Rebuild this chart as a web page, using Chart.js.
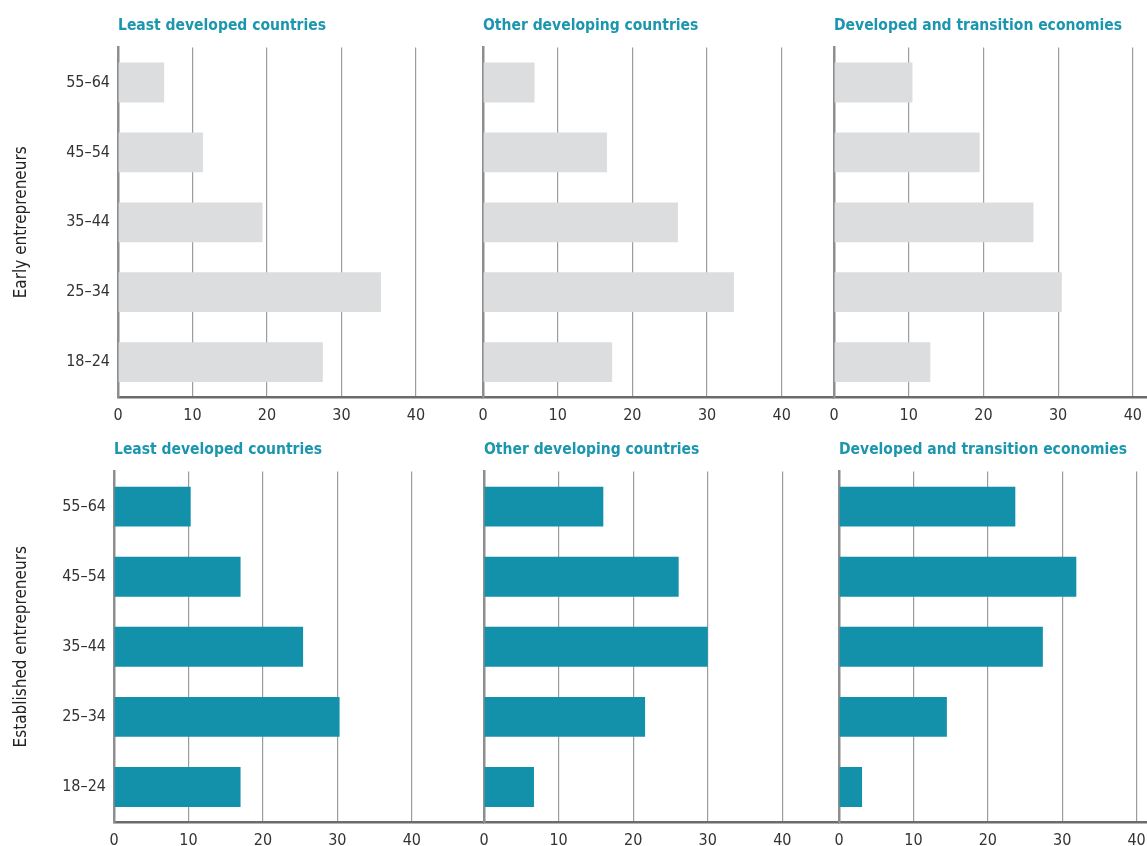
<!DOCTYPE html>
<html>
<head>
<meta charset="utf-8">
<script src="https://cdn.jsdelivr.net/npm/chart.js@4.4.1/dist/chart.umd.min.js"></script>
<style>
  html, body { margin: 0; padding: 0; background: #fff; overflow: hidden; }
  body { width: 1147px; height: 846px; position: relative; }
  .panel { position: absolute; }
</style>
</head>
<body>
<div class="panel" style="left:0px;top:0px;width:483px;height:427px"><canvas id="c1"></canvas></div>
<div class="panel" style="left:463px;top:0px;width:371px;height:427px"><canvas id="c2"></canvas></div>
<div class="panel" style="left:814px;top:0px;width:333px;height:427px"><canvas id="c3"></canvas></div>
<div class="panel" style="left:0px;top:424px;width:484px;height:428px"><canvas id="c4"></canvas></div>
<div class="panel" style="left:464px;top:424px;width:375px;height:428px"><canvas id="c5"></canvas></div>
<div class="panel" style="left:819px;top:424px;width:328px;height:428px"><canvas id="c6"></canvas></div>
<script>
// age groups, bottom to top
const ageGroups = ["18–24", "25–34", "35–44", "45–54", "55–64"];
const xTicks = [0, 10, 20, 30, 40];

const groupTitles = [
  "Least developed countries",
  "Other developing countries",
  "Developed and transition economies",
];
const rowTitles = ["Early entrepreneurs", "Established entrepreneurs"];

// early entrepreneurs (%)
const earlyLDC = [27.5, 35.3, 19.4, 11.4, 6.2];
const earlyODC = [17.3, 33.6, 26.1, 16.6, 6.9];
const earlyDTE = [12.9, 30.5, 26.7, 19.5, 10.5];

// established entrepreneurs (%)
const estLDC = [17.0, 30.3, 25.4, 17.0, 10.3];
const estODC = [6.7, 21.6, 30.0, 26.1, 16.0];
const estDTE = [3.1, 14.5, 27.4, 31.9, 23.7];

const FONT = "'Liberation Sans Narrow', 'DejaVu Sans Condensed', 'Roboto', sans-serif";
const TEAL = "#1390aa";
const GREY = "#dcdddf";

function makePanel(id, opts) {
  const ctx = document.getElementById(id).getContext("2d");
  return new Chart(ctx, {
    type: "bar",
    data: {
      labels: ageGroups,
      datasets: [{
        data: opts.values,
        backgroundColor: opts.color,
        borderWidth: 0,
        barPercentage: 0.57,
        categoryPercentage: 1.0,
      }],
    },
    options: {
      indexAxis: "y",
      responsive: true,
      maintainAspectRatio: false,
      animation: false,
      layout: { padding: 0 },
      plugins: {
        legend: { display: false },
        tooltip: { enabled: false },
        title: {
          display: true,
          text: opts.title,
          align: "start",
          fullSize: false,
          color: "#1b96ae",
          font: { family: FONT, size: 15.5, weight: "bold" },
          padding: { top: 17, bottom: 12 },
        },
      },
      scales: {
        x: {
          min: 0,
          max: opts.max,
          afterBuildTicks: (s) => { s.ticks = xTicks.map((v) => ({ value: v })); },
          afterFit: (s) => {
            s.height = 30;
            s.paddingLeft = 0;
            s.paddingRight = 0;
          },
          grid: {
            drawTicks: false,
            color: "#9c9c9c",
            lineWidth: 1.2,
          },
          border: { display: true, color: "#6b6b6b", width: 2.5 },
          ticks: {
            padding: 9,
            color: "#333",
            font: { family: FONT, size: 16 },
          },
        },
        y: {
          reverse: true,
          afterFit: (s) => { s.width = opts.yWidth; },
          grid: { display: false, drawTicks: false },
          border: { display: true, color: "#8e8e8e", width: 2.5 },
          ticks: {
            display: opts.showLabels,
            padding: 8,
            color: "#333",
            font: { family: FONT, size: 16 },
          },
          title: {
            display: !!opts.rowTitle,
            text: opts.rowTitle || "",
            color: "#222",
            padding: { top: 11, bottom: 0 },
            font: { family: FONT, size: 17 },
          },
        },
      },
    },
  });
}

makePanel("c1", { values: earlyLDC, color: GREY, title: groupTitles[0], max: 49.0, yWidth: 118, showLabels: true, rowTitle: rowTitles[0] });
makePanel("c2", { values: earlyODC, color: GREY, title: groupTitles[1], max: 47.0, yWidth: 20, showLabels: false });
makePanel("c3", { values: earlyDTE, color: GREY, title: groupTitles[2], max: 41.9, yWidth: 20, showLabels: false });
makePanel("c4", { values: estLDC, color: TEAL, title: groupTitles[0], max: 49.7, yWidth: 114, showLabels: true, rowTitle: rowTitles[1] });
makePanel("c5", { values: estODC, color: TEAL, title: groupTitles[1], max: 47.6, yWidth: 20, showLabels: false });
makePanel("c6", { values: estDTE, color: TEAL, title: groupTitles[2], max: 41.4, yWidth: 20, showLabels: false });
</script>
</body>
</html>
